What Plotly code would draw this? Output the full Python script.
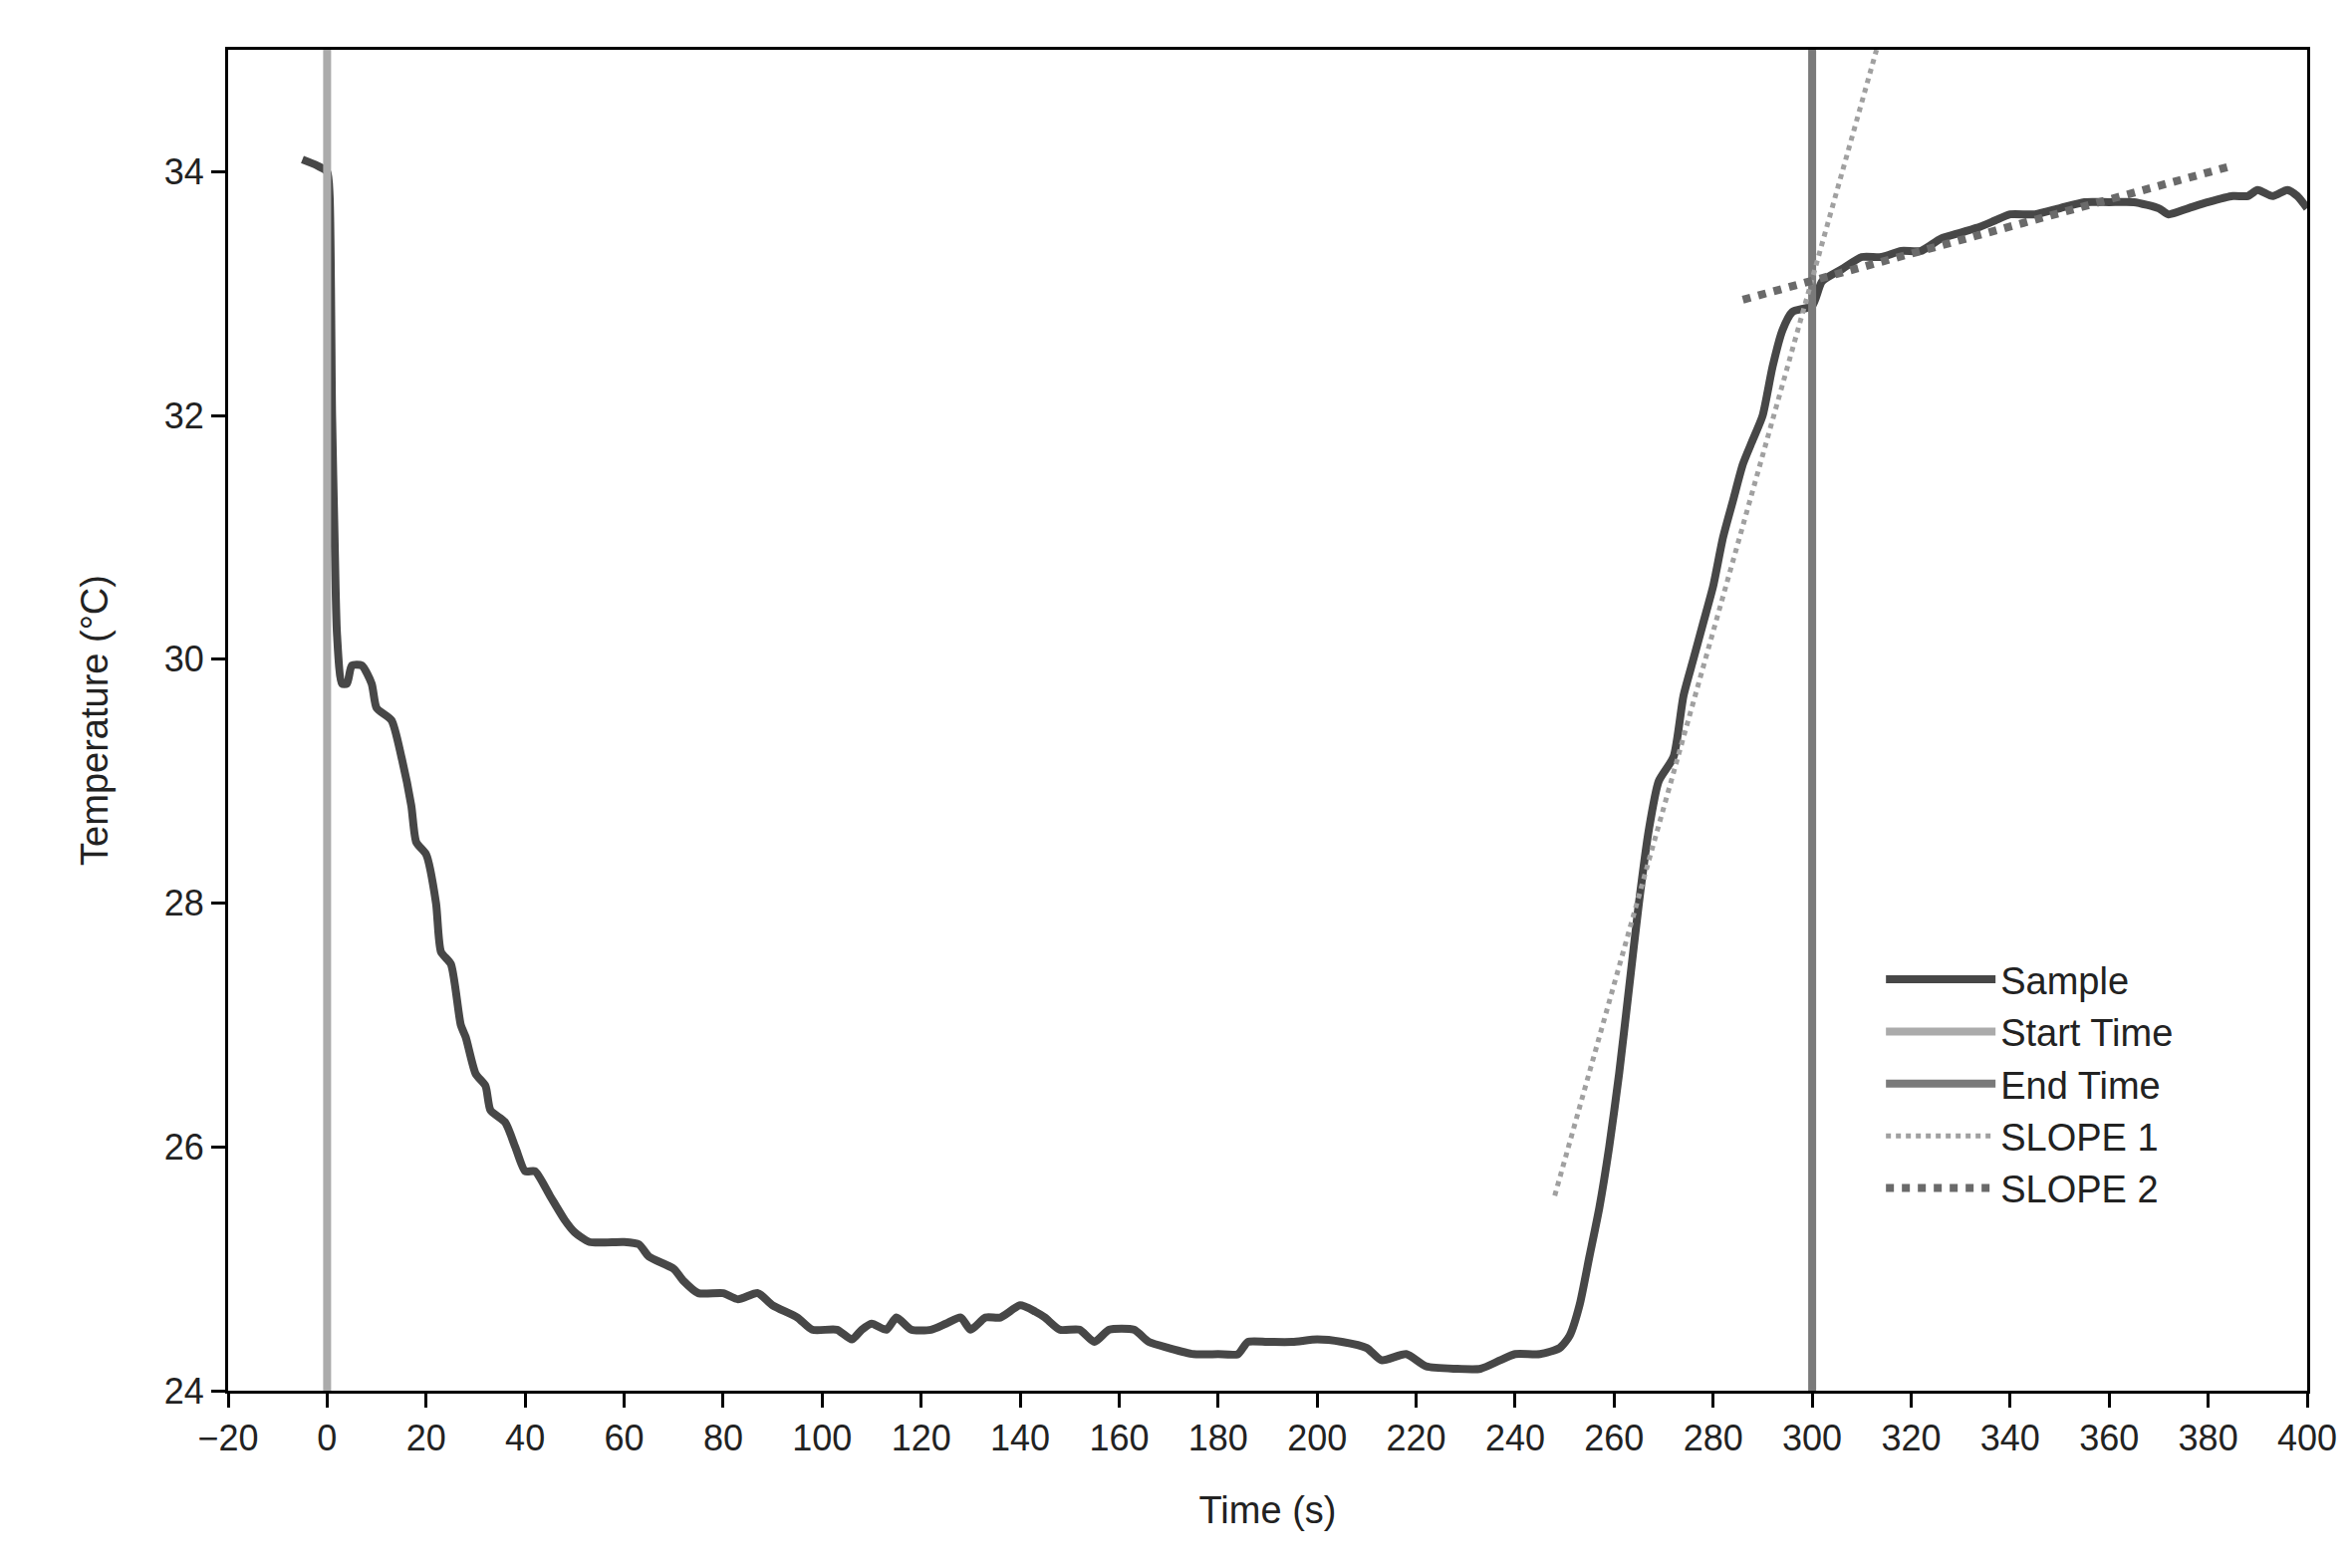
import plotly.graph_objects as go

t = [-5,-2,0,0.5,1,1.5,2,3,4,5,7,9,10,13,15,17,18,20,22,23,25,27,28,30,32,33,36,38,40,42,45,48,50,53,60,63,65,70,72,75,80,83,87,90,95,98,103,106,108,110,113,115,118,122,125,128,130,133,136,140,143,145,148,152,155,158,163,166,170,175,180,184,186,190,195,200,205,210,213,218,222,228,233,237,240,245,249,251,253,255,257,259,261,263,265,267,269,272,274,276,278,280,282,284,286,288,290,292,294,296,300,302,306,310,314,318,322,326,330,334,337,340,345,350,355,360,365,370,372,376,380,385,388,390,393,396,398,400]
temp = [34.1,34.05,34.0,33.8,32.0,31.0,30.2,29.8,29.8,29.95,29.95,29.8,29.6,29.5,29.2,28.8,28.5,28.4,28.0,27.6,27.5,27.0,26.9,26.6,26.5,26.3,26.2,26.0,25.8,25.8,25.6,25.4,25.3,25.22,25.22,25.2,25.1,25.0,24.9,24.8,24.8,24.75,24.8,24.7,24.6,24.5,24.5,24.42,24.5,24.55,24.5,24.6,24.5,24.5,24.55,24.6,24.5,24.6,24.6,24.7,24.65,24.6,24.5,24.5,24.4,24.5,24.5,24.4,24.35,24.3,24.3,24.3,24.4,24.4,24.4,24.42,24.4,24.35,24.25,24.3,24.2,24.18,24.18,24.25,24.3,24.3,24.35,24.45,24.7,25.1,25.5,26.0,26.6,27.3,28.0,28.6,29.0,29.2,29.7,30.0,30.3,30.6,31.0,31.3,31.6,31.8,32.0,32.4,32.7,32.85,32.9,33.1,33.2,33.3,33.3,33.35,33.35,33.45,33.5,33.55,33.6,33.65,33.65,33.7,33.75,33.75,33.75,33.7,33.65,33.7,33.75,33.8,33.8,33.85,33.8,33.85,33.8,33.7]
start_time = 0
end_time = 300
slope1_x = [248, 313]
slope1_y = [25.6, 35.0]
slope2_x = [286, 385]
slope2_y = [32.95, 34.05]

fig = go.Figure()
fig.add_trace(go.Scatter(x=t, y=temp, mode="lines", name="Sample",
                         line=dict(color="#474747", width=8, shape="spline", smoothing=0.6)))
fig.add_trace(go.Scatter(x=[start_time]*2, y=[24, 35], mode="lines", name="Start Time", line=dict(color="#ababab", width=8)))
fig.add_trace(go.Scatter(x=[end_time]*2, y=[24, 35], mode="lines", name="End Time", line=dict(color="#7a7a7a", width=8)))
fig.add_trace(go.Scatter(x=slope1_x, y=slope1_y, mode="lines", name="SLOPE 1", line=dict(color="#a0a0a0", width=5, dash="dot")))
fig.add_trace(go.Scatter(x=slope2_x, y=slope2_y, mode="lines", name="SLOPE 2", line=dict(color="#6a6a6a", width=8, dash="dot")))

axis_common = dict(showgrid=False, zeroline=False, showline=True, linecolor="black", linewidth=3,
                   mirror=True, ticks="outside", ticklen=14, tickwidth=3, tickcolor="black",
                   tickfont=dict(size=36, color="#222"))
fig.update_layout(
    width=2361, height=1574, plot_bgcolor="white", paper_bgcolor="white",
    font=dict(family="Liberation Sans, Arial, sans-serif", color="#222"),
    margin=dict(l=221, r=53, t=42, b=186),
    xaxis=dict(range=[-20, 400], tick0=-20, dtick=20, title=dict(text="Time (s)", font=dict(size=38), standoff=40), **axis_common),
    yaxis=dict(range=[24, 35], tickvals=[24, 26, 28, 30, 32, 34], title=dict(text="Temperature (°C)", font=dict(size=38), standoff=45), **axis_common),
    legend=dict(x=0.795, y=0.33, xanchor="left", yanchor="top", font=dict(size=38), bgcolor="rgba(0,0,0,0)",
                itemwidth=110, tracegroupgap=14),
    showlegend=True,
)
fig.write_html("out.html")
